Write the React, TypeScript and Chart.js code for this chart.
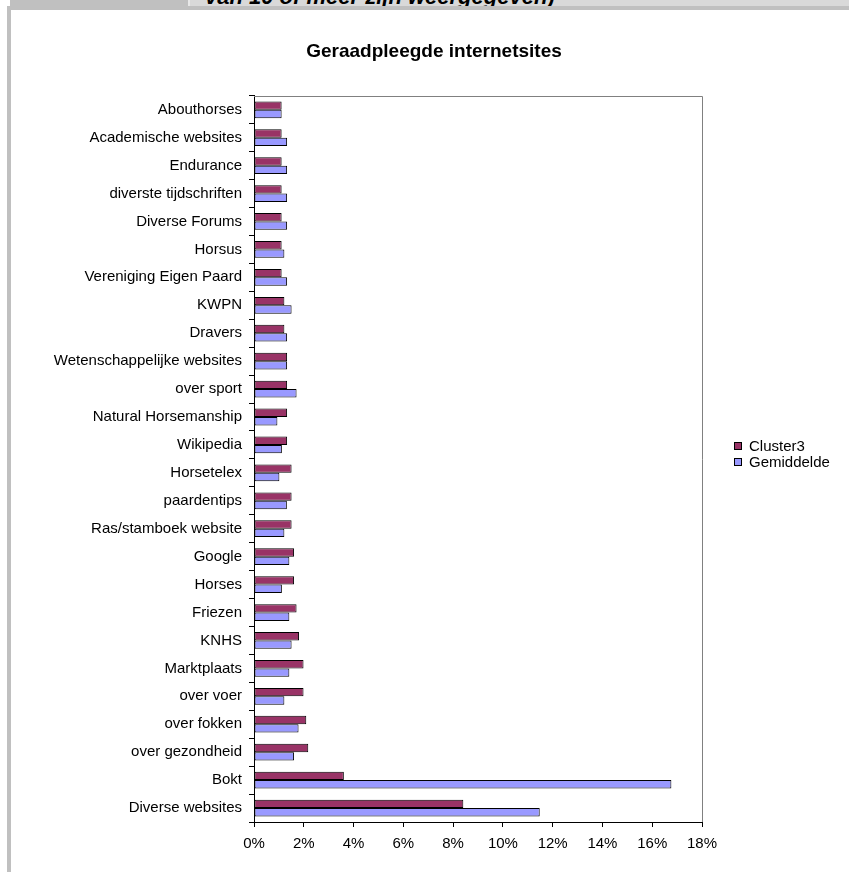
import React, { useEffect, useRef } from "react";
import { Chart, registerables } from "chart.js";

Chart.register(...registerables);

const categories: string[] = [
  "Abouthorses",
  "Academische websites",
  "Endurance",
  "diverste tijdschriften",
  "Diverse Forums",
  "Horsus",
  "Vereniging Eigen Paard",
  "KWPN",
  "Dravers",
  "Wetenschappelijke websites",
  "over sport",
  "Natural Horsemanship",
  "Wikipedia",
  "Horsetelex",
  "paardentips",
  "Ras/stamboek website",
  "Google",
  "Horses",
  "Friezen",
  "KNHS",
  "Marktplaats",
  "over voer",
  "over fokken",
  "over gezondheid",
  "Bokt",
  "Diverse websites",
];

const cluster3: number[] = [
  1.11, 1.11, 1.11, 1.11, 1.11, 1.11, 1.11, 1.22, 1.22, 1.33, 1.33, 1.33, 1.33,
  1.51, 1.51, 1.51, 1.61, 1.61, 1.71, 1.81, 1.99, 1.99, 2.1, 2.18, 3.61, 8.41,
];

const gemiddelde: number[] = [
  1.11, 1.33, 1.33, 1.33, 1.33, 1.22, 1.33, 1.51, 1.33, 1.33, 1.71, 0.94, 1.12,
  1.02, 1.32, 1.22, 1.42, 1.12, 1.42, 1.51, 1.42, 1.22, 1.79, 1.61, 16.77, 11.48,
];

const seriesNames: string[] = ["Cluster3", "Gemiddelde"];
const seriesColors: string[] = ["#993366", "#9999FF"];

const xTickMin = 0;
const xTickMax = 18;
const xTickStep = 2;

const chartTitle = "Geraadpleegde internetsites";
const bandText = "van 10 of meer zijn weergegeven)";

const FONT = 'Arial, "Liberation Sans", sans-serif';

const plotBorderPlugin = {
  id: "plotBorder",
  beforeDatasetsDraw(chart: any) {
    const { ctx, chartArea } = chart;
    ctx.save();
    ctx.strokeStyle = "#808080";
    ctx.lineWidth = 1;
    ctx.beginPath();
    ctx.moveTo(chartArea.left, Math.round(chartArea.top) + 0.5);
    ctx.lineTo(Math.round(chartArea.right) + 0.5, Math.round(chartArea.top) + 0.5);
    ctx.lineTo(Math.round(chartArea.right) + 0.5, chartArea.bottom);
    ctx.stroke();
    ctx.restore();
  },
};

const legendPlugin = {
  id: "xlLegend",
  afterDraw(chart: any) {
    const { ctx } = chart;
    ctx.save();
    ctx.font = `15px ${FONT}`;
    ctx.textBaseline = "middle";
    ctx.textAlign = "left";
    chart.data.datasets.forEach((ds: any, i: number) => {
      const cy = 436 + i * 16;
      const bx = 723;
      ctx.fillStyle = ds.backgroundColor;
      ctx.fillRect(bx, cy - 4, 8, 8);
      ctx.strokeStyle = "#000";
      ctx.lineWidth = 1;
      ctx.strokeRect(bx + 0.5, cy - 3.5, 7, 7);
      ctx.fillStyle = "#000";
      ctx.fillText(ds.label, 738, cy + 1);
    });
    ctx.restore();
  },
};

export default function App() {
  const ref = useRef<HTMLCanvasElement>(null);

  useEffect(() => {
    document.body.style.margin = "0";
    Chart.defaults.font.family = FONT;
    const canvas = ref.current!;
    const chart = new Chart(canvas, {
      type: "bar",
      data: {
        labels: categories,
        datasets: [
          {
            label: seriesNames[0],
            data: cluster3,
            backgroundColor: seriesColors[0],
            borderColor: "#000",
            borderWidth: 1,
            borderSkipped: false,
            categoryPercentage: 0.6,
            barPercentage: 1,
          },
          {
            label: seriesNames[1],
            data: gemiddelde,
            backgroundColor: seriesColors[1],
            borderColor: "#000",
            borderWidth: 1,
            borderSkipped: false,
            categoryPercentage: 0.6,
            barPercentage: 1,
          },
        ],
      },
      options: {
        indexAxis: "y",
        animation: false,
        responsive: false,
        maintainAspectRatio: false,
        layout: { padding: { left: 8, right: 0, top: 0, bottom: 20 } },
        plugins: {
          legend: { display: false },
          tooltip: { enabled: false },
          title: {
            display: true,
            text: chartTitle,
            color: "#000",
            font: { family: FONT, size: 19, weight: "bold" },
            padding: { top: 30, bottom: 33 },
          },
        },
        scales: {
          x: {
            min: xTickMin,
            max: xTickMax,
            ticks: {
              stepSize: xTickStep,
              color: "#000",
              font: { family: FONT, size: 15 },
              padding: 8,
              maxRotation: 0,
              callback: (v: any) => `${v}%`,
            },
            grid: {
              display: true,
              drawOnChartArea: false,
              drawTicks: true,
              tickLength: 5,
              color: "#000",
            },
            border: { display: true, color: "#000", width: 1 },
            afterFit: (s: any) => {
              s.height = 30;
            },
          },
          y: {
            ticks: {
              color: "#000",
              font: { family: FONT, size: 15 },
              padding: 7,
              autoSkip: false,
            },
            grid: {
              display: true,
              offset: true,
              drawOnChartArea: false,
              drawTicks: true,
              tickLength: 5,
              color: "#000",
            },
            border: { display: true, color: "#000", width: 1 },
            afterFit: (s: any) => {
              s.width = 235;
            },
          },
          legendSpace: {
            type: "linear",
            axis: "y",
            position: "right",
            display: true,
            grid: { display: false, drawTicks: false },
            ticks: { display: false },
            border: { display: false },
            afterFit: (s: any) => {
              s.width = 147;
            },
          },
        },
      } as any,
      plugins: [plotBorderPlugin, legendPlugin],
    });
    return () => chart.destroy();
  }, []);

  return (
    <div
      style={{
        position: "relative",
        width: 849,
        height: 872,
        overflow: "hidden",
        background: "#fff",
        fontFamily: FONT,
      }}
    >
      <div style={{ position: "absolute", left: 10, top: 0, width: 178, height: 6, background: "#c0c0c0" }} />
      <div style={{ position: "absolute", left: 188, top: 0, width: 2, height: 6, background: "#e8e8e8" }} />
      <div
        style={{
          position: "absolute",
          left: 190,
          top: 0,
          width: 659,
          height: 6,
          background: "#d9d9d9",
          overflow: "hidden",
        }}
      >
        <span
          style={{
            position: "absolute",
            left: 15,
            top: -14,
            fontSize: 22,
            lineHeight: "22px",
            fontWeight: "bold",
            fontStyle: "italic",
            whiteSpace: "nowrap",
            color: "#000",
          }}
        >
          {bandText}
        </span>
      </div>
      <div style={{ position: "absolute", left: 7, top: 6, width: 842, height: 4, background: "#c0c0c0" }} />
      <div style={{ position: "absolute", left: 7, top: 6, width: 4, height: 866, background: "#c0c0c0" }} />
      <div style={{ position: "absolute", left: 11, top: 10, width: 838, height: 862 }}>
        <canvas ref={ref} width={838} height={862} style={{ width: 838, height: 862, display: "block" }} />
      </div>
    </div>
  );
}
